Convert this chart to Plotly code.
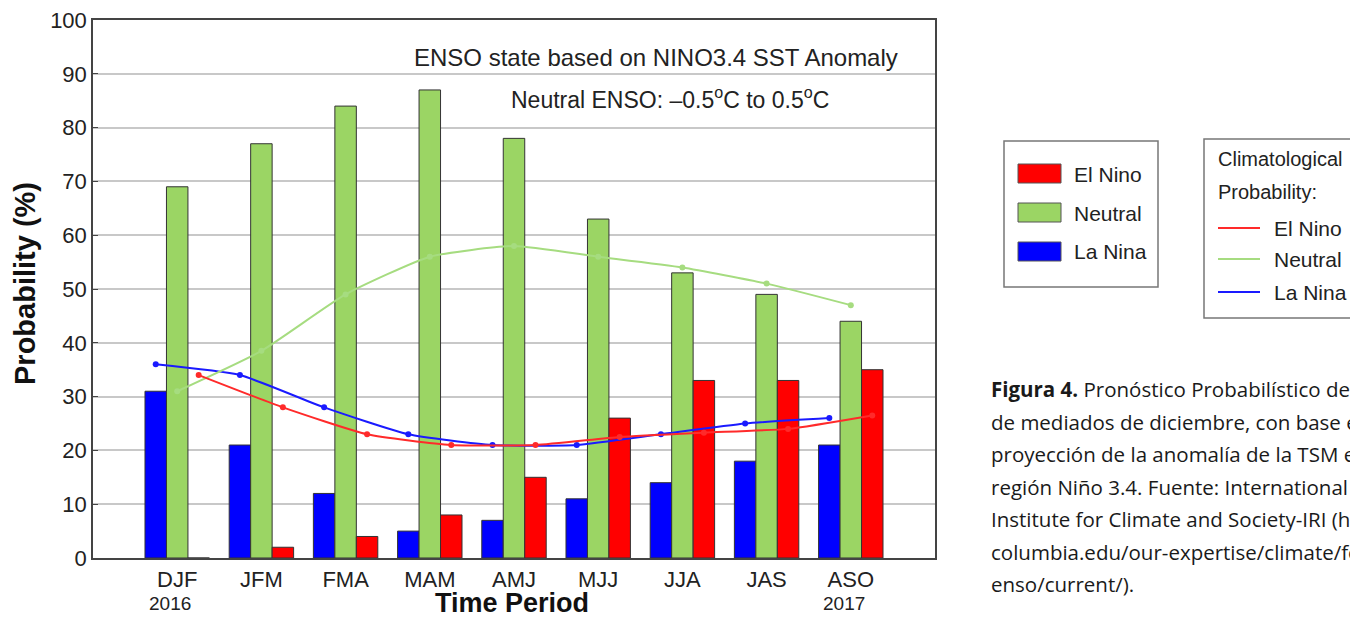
import plotly.graph_objects as go

periods = ["DJF", "JFM", "FMA", "MAM", "AMJ", "MJJ", "JJA", "JAS", "ASO"]
la_nina = [31, 21, 12, 5, 7, 11, 14, 18, 21]
neutral = [69, 77, 84, 87, 78, 63, 53, 49, 44]
el_nino = [0, 2, 4, 8, 15, 26, 33, 33, 35]
clim_la_nina = [36, 34, 28, 23, 21, 21, 23, 25, 26]
clim_neutral = [31, 38.5, 49, 56, 58, 56, 54, 51, 47]
clim_el_nino = [34, 28, 23, 21, 21, 22.5, 23.3, 24, 26.5]
year_labels = [("DJF", "2016"), ("ASO", "2017")]

RED, GREEN, BLUE = "#ff0000", "#9bd564", "#0000ff"
LRED, LGREEN, LBLUE = "#ff2a2a", "#a6dc80", "#1a1aff"
FONT = "Liberation Sans, Arial, sans-serif"

# page offset of the figure inside the browser page (default body margin)
OFF = 8
W, H = 1358 - OFF, 618 - OFF
L, R, T, B = 93, 935, 20, 558   # plot area in page pixels


def px(x):
    return (x - L) / (R - L)


def py(y):
    return (B - y) / (B - T)


fig = go.Figure()
bar_line = dict(color="#333333", width=1)
fig.add_bar(x=periods, y=la_nina, name="La Nina", marker=dict(color=BLUE, line=bar_line),
            offsetgroup="lanina")
fig.add_bar(x=periods, y=neutral, name="Neutral", marker=dict(color=GREEN, line=bar_line),
            offsetgroup="neutral")
fig.add_bar(x=periods, y=el_nino, name="El Nino", marker=dict(color=RED, line=bar_line),
            offsetgroup="elnino")

for vals, col, grp in [(clim_la_nina, LBLUE, "lanina"), (clim_neutral, LGREEN, "neutral"),
                       (clim_el_nino, LRED, "elnino")]:
    fig.add_scatter(x=periods, y=vals, mode="lines+markers", offsetgroup=grp,
                    line=dict(color=col, width=2, shape="spline", smoothing=0.5),
                    marker=dict(color=col, size=6), showlegend=False)

shapes = []
annotations = []


def txt(x, y, text, size, xanchor="left", color="#222", family=FONT, **kw):
    annotations.append(dict(xref="paper", yref="paper", x=px(x), y=py(y), xanchor=xanchor,
                            yanchor="middle", showarrow=False, text=text,
                            font=dict(family=family, size=size, color=color), **kw))


# chart texts
txt(900, 57, "ENSO state based on NINO3.4 SST Anomaly", 24, xanchor="right")
txt(670, 98, "Neutral ENSO: \u20130.5<sup>o</sup>C to 0.5<sup>o</sup>C", 23, xanchor="center")
txt(512, 603, "<b>Time Period</b>", 27, xanchor="center", color="#111")
txt(25, 284, "<b>Probability (%)</b>", 29, xanchor="center", color="#111", textangle=-90)
for cat, yr in year_labels:
    annotations.append(dict(xref="x", yref="paper", x=cat, y=py(603), xanchor="center",
                            yanchor="middle", showarrow=False, text=yr, xshift=-7,
                            font=dict(family=FONT, size=19, color="#222")))

# legend box 1
shapes.append(dict(type="rect", xref="paper", yref="paper", x0=px(1004), x1=px(1158),
                   y0=py(287), y1=py(141), line=dict(color="#777", width=1.5),
                   fillcolor="white"))
for (name, col, ytop) in [("El Nino", RED, 164), ("Neutral", GREEN, 203), ("La Nina", BLUE, 242)]:
    shapes.append(dict(type="rect", xref="paper", yref="paper", x0=px(1018), x1=px(1061),
                       y0=py(ytop + 19), y1=py(ytop), line=dict(color="#555", width=1),
                       fillcolor=col))
    txt(1072, ytop + 10, name, 21)

# legend box 2
shapes.append(dict(type="rect", xref="paper", yref="paper", x0=px(1204), x1=px(1355),
                   y0=py(318), y1=py(139), line=dict(color="#777", width=1.5),
                   fillcolor="white"))
txt(1216, 159, "Climatological", 20)
txt(1216, 192, "Probability:", 20)
for (name, col, yc) in [("El Nino", LRED, 228), ("Neutral", LGREEN, 259), ("La Nina", LBLUE, 292)]:
    shapes.append(dict(type="line", xref="paper", yref="paper", x0=px(1218), x1=px(1260),
                       y0=py(yc), y1=py(yc), line=dict(color=col, width=2)))
    txt(1272, yc, name, 21)

# caption
caption = [
    "<b>Figura 4.</b> Pronóstico Probabilístico del",
    "de mediados de diciembre, con base en",
    "proyección de la anomalía de la TSM en",
    "región Niño 3.4. Fuente: International",
    "Institute for Climate and Society-IRI (http://",
    "columbia.edu/our-expertise/climate/forecasts/",
    "enso/current/).",
]
for i, line in enumerate(caption):
    txt(989, 389 + 32.5 * i, line, 20.5, family="Open Sans, sans-serif", color="#1a1a1a")

fig.update_layout(
    width=W, height=H,
    margin=dict(l=L - OFF, r=W - (R - OFF), t=T - OFF, b=H - (B - OFF), pad=0,
                autoexpand=False),
    paper_bgcolor="white", plot_bgcolor="white",
    barmode="group", bargap=0.235, bargroupgap=0.0,
    scattermode="group",
    showlegend=False,
    shapes=shapes, annotations=annotations,
    font=dict(family=FONT, color="#222"),
)
fig.update_xaxes(type="category", range=[-1, 9], showline=True, mirror=True, automargin=False,
                 linecolor="#444", linewidth=1.5, showgrid=False, ticks="",
                 tickfont=dict(family=FONT, size=22, color="#222"), ticklabelstandoff=1)
fig.update_yaxes(range=[0, 100], dtick=10, showline=True, mirror=True, linecolor="#444",
                 automargin=False, ticklabeloverflow="allow",
                 linewidth=1.5, showgrid=True, gridcolor="#c8c8c8", gridwidth=1.5,
                 ticks="inside", ticklen=5, tickcolor="#444",
                 tickfont=dict(family=FONT, size=22, color="#222"), zeroline=False)

fig.write_html("out.html")
